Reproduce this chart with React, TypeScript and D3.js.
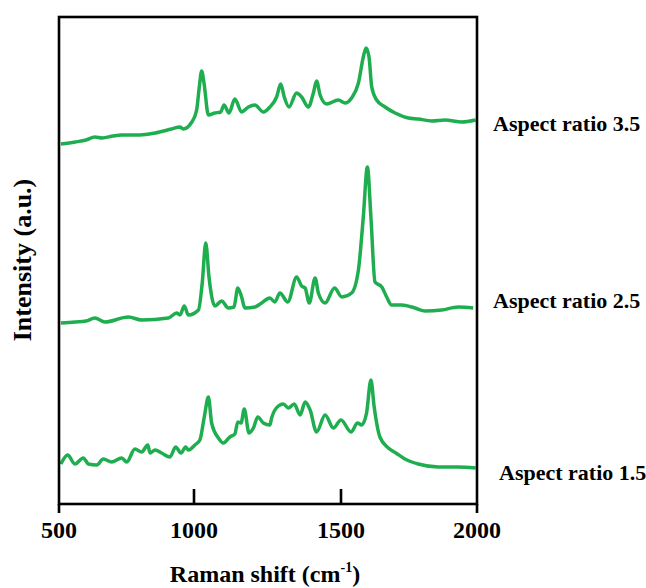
import React from 'react';
import * as d3 from 'd3';

// Raman spectra, [shift (cm-1), intensity (a.u., offset already included)]
const ratio35: [number, number][] = [
  [507, 360], [560, 362], [600, 364], [633, 367], [660, 366], [700, 368], [732, 369], [800, 369],
  [856, 371], [917, 375], [948, 377], [960, 375],
  [992, 382], [1009, 394], [1018, 417], [1026, 433], [1034, 421], [1049, 389], [1071, 391],
  [1091, 392], [1102, 399], [1119, 391], [1139, 405], [1162, 392], [1185, 397], [1207, 399],
  [1236, 392], [1258, 397], [1281, 407], [1295, 420], [1307, 407], [1323, 397], [1349, 411],
  [1366, 407], [1389, 397], [1406, 411], [1417, 423], [1429, 409], [1451, 400], [1491, 404],
  [1515, 401], [1539, 406], [1564, 421], [1582, 447], [1592, 456], [1603, 447], [1613, 417],
  [1631, 404], [1662, 397], [1699, 391], [1748, 386], [1784, 385], [1834, 383], [1882, 384],
  [1944, 382], [1995, 384],
];

const ratio25: [number, number][] = [
  [507, 181], [559, 182], [600, 183], [633, 186], [670, 182], [757, 187], [806, 184], [905, 186],
  [936, 191], [948, 189], [964, 198], [979, 189], [1015, 194], [1028, 221], [1040, 261],
  [1051, 227], [1071, 198], [1094, 203], [1117, 196], [1136, 197], [1149, 216], [1162, 207],
  [1173, 196], [1207, 197], [1230, 201], [1258, 206], [1275, 202], [1292, 211], [1319, 202],
  [1349, 227], [1366, 218], [1378, 216], [1392, 201], [1412, 226], [1423, 211], [1446, 201],
  [1478, 216], [1503, 207], [1539, 211], [1564, 234], [1582, 287], [1597, 337], [1610, 287],
  [1625, 222], [1650, 217], [1668, 207], [1686, 199], [1723, 199], [1772, 196], [1809, 193],
  [1870, 194], [1931, 197], [1986, 196],
];

const ratio15: [number, number][] = [
  [507, 40], [532, 49], [559, 40], [590, 46], [609, 40], [640, 39], [664, 45], [695, 42],
  [732, 46], [751, 42], [781, 55], [806, 52], [829, 59], [837, 51], [856, 54], [880, 51],
  [911, 47], [932, 57], [952, 51], [969, 57], [979, 54], [1003, 59], [1020, 64], [1035, 87],
  [1049, 107], [1060, 81], [1083, 66], [1100, 61], [1122, 67], [1139, 70], [1149, 82],
  [1160, 81], [1171, 95], [1187, 71], [1202, 76], [1217, 87], [1236, 81], [1258, 79],
  [1264, 86], [1287, 98], [1304, 100], [1321, 96], [1341, 100], [1361, 89], [1378, 102],
  [1395, 94], [1417, 72], [1446, 89], [1474, 76], [1500, 84], [1537, 72], [1561, 81],
  [1576, 79], [1594, 91], [1610, 124], [1622, 97], [1643, 67], [1674, 56], [1702, 51],
  [1735, 45], [1784, 40], [1857, 37], [1930, 37], [1995, 36],
];

const series = [
  { label: 'Aspect ratio 3.5', data: ratio35, labelX: 493, labelY: 131 },
  { label: 'Aspect ratio 2.5', data: ratio25, labelX: 493, labelY: 308 },
  { label: 'Aspect ratio 1.5', data: ratio15, labelX: 499, labelY: 480 },
];

const xTicks = [500, 1000, 1500, 2000];

const font = "'Liberation Serif', 'Times New Roman', serif";
const green = '#1fae4f';

export default function App() {
  const width = 646;
  const height = 588;
  const left = 59, right = 477, top = 17, bottom = 504;

  // the original axis is not quite evenly spaced
  const x = d3.scaleLinear().domain(xTicks).range([left, 194, 341, right]);
  const y = d3.scaleLinear().domain([0, bottom - top]).range([bottom, top]);

  const line = d3.line<[number, number]>()
    .x(d => x(d[0]))
    .y(d => y(d[1]))
    .curve(d3.curveMonotoneX);

  return (
    <svg width={width} height={height} style={{ position: 'absolute', left: 0, top: 0 }}>
      <rect x={0} y={0} width={width} height={height} fill="white" />
      {series.map(s => (
        <path key={s.label} d={line(s.data) || ''} fill="none" stroke={green}
          strokeWidth={3.5} strokeLinejoin="round" />
      ))}
      <rect x={left} y={top} width={right - left} height={bottom - top}
        fill="none" stroke="black" strokeWidth={2.6} />
      {xTicks.map((t, i) => {
        const edge = i === 0 || i === xTicks.length - 1;
        return (
          <g key={t}>
            <line x1={x(t)} x2={x(t)} y1={edge ? bottom : bottom - 15} y2={edge ? bottom + 9 : bottom}
              stroke="black" strokeWidth={2.6} />
            <text x={x(t)} y={538} textAnchor="middle" fontFamily={font}
              fontWeight="bold" fontSize={24}>{t}</text>
          </g>
        );
      })}
      <text x={265} y={582} textAnchor="middle" fontFamily={font} fontWeight="bold" fontSize={24}>
        Raman shift (cm<tspan fontSize={14} dy={-10}>-1</tspan><tspan dy={10}>)</tspan>
      </text>
      <text transform="translate(31,260) rotate(-90)" textAnchor="middle" fontFamily={font}
        fontWeight="bold" fontSize={26}>Intensity (a.u.)</text>
      {series.map(s => (
        <text key={s.label} x={s.labelX} y={s.labelY} fontFamily={font} fontWeight="bold"
          fontSize={22}>{s.label}</text>
      ))}
    </svg>
  );
}
